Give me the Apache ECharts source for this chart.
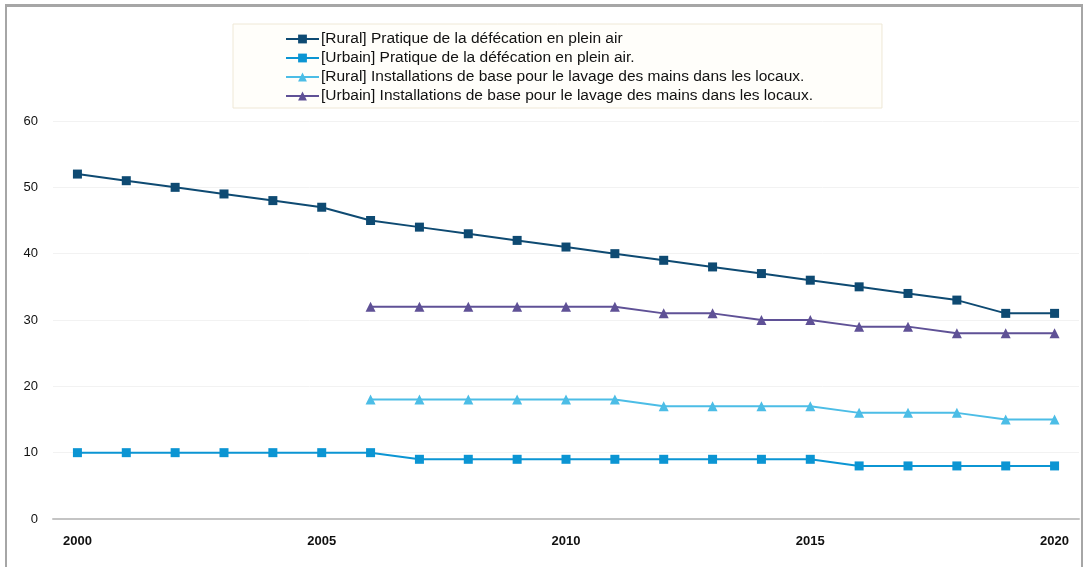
<!DOCTYPE html>
<html>
<head>
<meta charset="utf-8">
<script src="https://cdn.jsdelivr.net/npm/echarts@6/dist/echarts.min.js"></script>
<style>
  html, body { margin: 0; padding: 0; background: #fff; }
  #frame {
    position: absolute; left: 5px; top: 4px; width: 1074px; height: 570px;
    border-top: 3px solid #a6a6a6; border-left: 2px solid #a6a6a6; border-right: 2px solid #a6a6a6;
  }
  #chart { position: absolute; left: 0; top: 0; width: 1087px; height: 567px; }
</style>
</head>
<body>
<div id="frame"></div>
<div id="chart"></div>
<script>
const years = ['2000','2001','2002','2003','2004','2005','2006','2007','2008','2009','2010',
  '2011','2012','2013','2014','2015','2016','2017','2018','2019','2020'];
const yTicks = [0, 10, 20, 30, 40, 50, 60];

const ruralOpen = [52,51,50,49,48,47,45,44,43,42,41,40,39,38,37,36,35,34,33,31,31];
const urbanOpen = [10,10,10,10,10,10,10,9,9,9,9,9,9,9,9,9,8,8,8,8,8];
const ruralHand = [null,null,null,null,null,null,18,18,18,18,18,18,17,17,17,17,16,16,16,15,15];
const urbanHand = [null,null,null,null,null,null,32,32,32,32,32,32,31,31,30,30,29,29,28,28,28];

const names = [
  '[Rural] Pratique de la défécation en plein air',
  '[Urbain] Pratique de la défécation en plein air.',
  '[Rural] Installations de base pour le lavage des mains dans les locaux.',
  '[Urbain] Installations de base pour le lavage des mains dans les locaux.'
];
const colors = ['#0e4a72', '#0b95d3', '#4cbde6', '#5f5196'];

const chart = echarts.init(document.getElementById('chart'));

function line(name, data, color, symbol) {
  return {
    name, type: 'line', data,
    symbol, symbolSize: symbol === 'rect' ? 9 : 10,
    showAllSymbol: true,
    lineStyle: { width: 2, color },
    itemStyle: { color },
    connectNulls: false
  };
}

chart.setOption({
  animation: false,
  textStyle: { fontFamily: 'Liberation Sans, Arial, sans-serif' },
  legend: {
    orient: 'vertical',
    left: 233, top: 24,
    padding: [7, 69, 4, 52],
    itemGap: 3,
    itemWidth: 33, itemHeight: 11,
    backgroundColor: '#fffefa',
    borderColor: '#efe8d6', borderWidth: 1,
    textStyle: { fontSize: 15.5, color: '#111', padding: [0, 0, 0, -3] },
    data: names
  },
  grid: { left: 53, right: 8, top: 121, bottom: 48, containLabel: false },
  xAxis: {
    type: 'category', data: years, boundaryGap: true,
    axisLine: { lineStyle: { color: '#c4c4c4', width: 2 } },
    axisTick: { show: false },
    axisLabel: {
      interval: 0, fontSize: 13, fontWeight: 'bold', color: '#111', margin: 16,
      formatter: v => (Number(v) % 5 === 0 ? v : '')
    }
  },
  yAxis: {
    type: 'value', min: yTicks[0], max: yTicks[yTicks.length - 1], interval: 10,
    axisLine: { show: false },
    axisTick: { show: false },
    axisLabel: { fontSize: 13, color: '#111', margin: 15 },
    splitLine: { lineStyle: { color: '#f2f2f2', width: 1 } }
  },
  series: [
    line(names[0], ruralOpen, colors[0], 'rect'),
    line(names[1], urbanOpen, colors[1], 'rect'),
    line(names[2], ruralHand, colors[2], 'triangle'),
    line(names[3], urbanHand, colors[3], 'triangle')
  ]
});
</script>
</body>
</html>
